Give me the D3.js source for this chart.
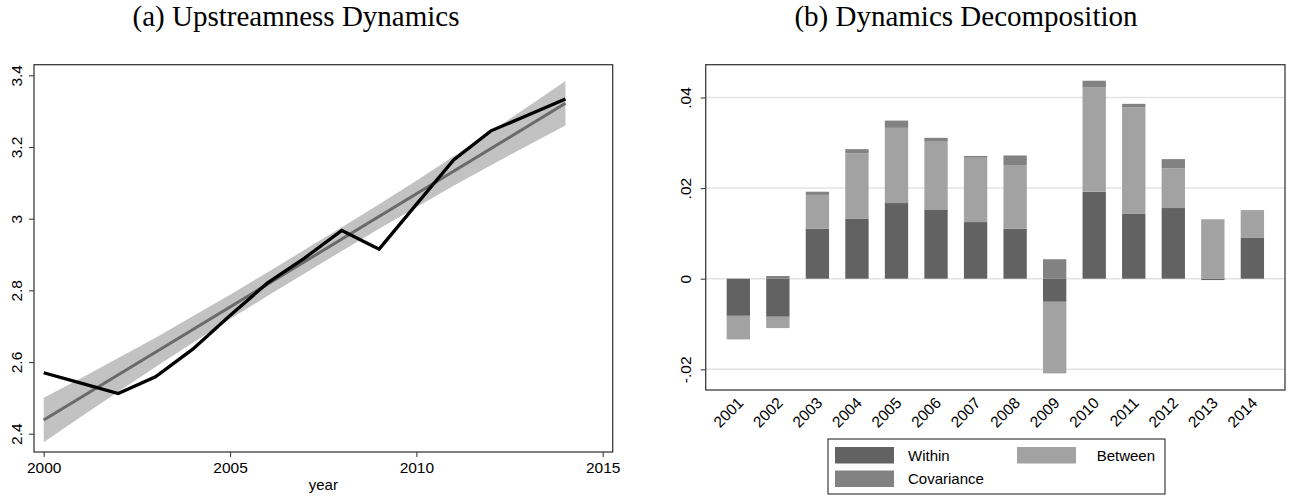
<!DOCTYPE html>
<html>
<head>
<meta charset="utf-8">
<script src="https://cdn.jsdelivr.net/npm/d3@7"></script>
<style>
  html, body { margin: 0; padding: 0; background: #fff; }
  svg { display: block; }
  .sans { font-family: "Liberation Sans", Arial, Helvetica, sans-serif; fill: #000; }
  .title { font-family: "Liberation Serif", "Times New Roman", serif; fill: #000; }
</style>
</head>
<body>
<svg id="chart" width="1290" height="499"></svg>
<script>
// ---------- Panel (a) data ----------
const years = [2000, 2001, 2002, 2003, 2004, 2005, 2006, 2007, 2008, 2009, 2010, 2011, 2012, 2013, 2014];
const upstreamness = [2.570, 2.541, 2.512, 2.559, 2.636, 2.730, 2.820, 2.890, 2.967, 2.915, 3.040, 3.164, 3.245, 3.289, 3.334];
const fitYears = [2000, 2014];
const fitValues = [2.438, 3.322];
const ciUpper = [2.500, 2.555, 2.611, 2.668, 2.728, 2.788, 2.850, 2.913, 2.976, 3.040, 3.106, 3.174, 3.243, 3.313, 3.384];
const ciLower = [2.376, 2.447, 2.517, 2.586, 2.654, 2.720, 2.784, 2.847, 2.910, 2.972, 3.032, 3.092, 3.149, 3.205, 3.260];
const xTicksA = [2000, 2005, 2010, 2015];
const yTicksA = [2.4, 2.6, 2.8, 3.0, 3.2, 3.4];
const yTickLabelsA = ["2.4", "2.6", "2.8", "3", "3.2", "3.4"];

// ---------- Panel (b) data ----------
const decompYears = ["2001", "2002", "2003", "2004", "2005", "2006", "2007", "2008", "2009", "2010", "2011", "2012", "2013", "2014"];
const within     = [-0.0082, -0.0084, 0.0110, 0.0132, 0.0167, 0.0153, 0.0125, 0.0110, -0.0051, 0.0192, 0.0143, 0.0156, -0.0003, 0.0091];
const between    = [-0.0052, -0.0025, 0.0075, 0.0145, 0.0166, 0.0151, 0.0142, 0.0141, -0.0158, 0.0230, 0.0235, 0.0088, 0.0130, 0.0058];
const covariance = [0.0000, 0.0006, 0.0007, 0.0009, 0.0016, 0.0007, 0.0004, 0.0021, 0.0043, 0.0015, 0.0008, 0.0020, 0.0001, 0.0002];
const seriesNames = ["Within", "Between", "Covariance"];
const seriesColors = ["#626262", "#a2a2a2", "#828282"];
const yTicksB = [-0.02, 0, 0.02, 0.04];
const yTickLabelsB = ["-.02", "0", ".02", ".04"];

const svg = d3.select("#chart");
const frameColor = "#3c3c3c";

// ================= Panel (a) =================
const A = { left: 34, right: 612.7, top: 64.7, bottom: 452 };
const xA = d3.scaleLinear().domain([2000, 2015]).range([43.7, 602.7]);
const yA = d3.scaleLinear().domain([2.4, 3.4]).range([433.7, 75.3]);

const gA = svg.append("g");
gA.append("text").attr("class", "title")
  .attr("x", 296).attr("y", 26).attr("text-anchor", "middle")
  .style("font-size", "29px")
  .text("(a) Upstreamness Dynamics");

// CI band
const bandData = years.map((y, i) => ({ x: y, lo: ciLower[i], hi: ciUpper[i] }));
gA.append("path").datum(bandData)
  .attr("fill", "#c2c2c2")
  .attr("d", d3.area().x(d => xA(d.x)).y0(d => yA(d.lo)).y1(d => yA(d.hi)));

// fitted line
gA.append("path").datum(fitYears.map((y, i) => ({ x: y, v: fitValues[i] })))
  .attr("fill", "none").attr("stroke", "#6a6a6a").attr("stroke-width", 3)
  .attr("d", d3.line().x(d => xA(d.x)).y(d => yA(d.v)));

// observed line
gA.append("path").datum(years.map((y, i) => ({ x: y, v: upstreamness[i] })))
  .attr("fill", "none").attr("stroke", "#000").attr("stroke-width", 3.3)
  .attr("stroke-linejoin", "miter")
  .attr("d", d3.line().x(d => xA(d.x)).y(d => yA(d.v)));

// frame
gA.append("rect").attr("x", A.left).attr("y", A.top)
  .attr("width", A.right - A.left).attr("height", A.bottom - A.top)
  .attr("fill", "none").attr("stroke", frameColor).attr("stroke-width", 1.3);

// x axis
const xAxisA = d3.axisBottom(xA).tickValues(xTicksA).tickFormat(d3.format("d")).tickSize(5).tickPadding(5);
const gxA = gA.append("g").attr("transform", `translate(0,${A.bottom})`).call(xAxisA);
gxA.select(".domain").remove();
gxA.selectAll("line").attr("stroke", frameColor).attr("stroke-width", 1.1);
gxA.selectAll("text").attr("class", "sans").style("font-size", "15.5px").attr("fill", "#000");

// y axis
const yAxisA = d3.axisLeft(yA).tickValues(yTicksA).tickFormat((d, i) => yTickLabelsA[i]).tickSize(5).tickPadding(0);
const gyA = gA.append("g").attr("transform", `translate(${A.left},0)`).call(yAxisA);
gyA.select(".domain").remove();
gyA.selectAll("line").attr("stroke", frameColor).attr("stroke-width", 1.1);
gyA.selectAll("text")
  .attr("class", "sans").style("font-size", "15.5px").attr("fill", "#000")
  .attr("x", null).attr("dy", null)
  .attr("text-anchor", "middle")
  .attr("transform", "translate(-12,0) rotate(-90)");

gA.append("text").attr("class", "sans")
  .attr("x", (A.left + A.right) / 2).attr("y", 490)
  .attr("text-anchor", "middle").style("font-size", "15px")
  .text("year");

// ================= Panel (b) =================
const B = { left: 705.7, right: 1285, top: 64.7, bottom: 390 };
const xB = d3.scaleBand().domain(decompYears).range([B.left, B.right]).paddingInner(0.41).paddingOuter(0.53);
const yB = d3.scaleLinear().domain([-0.02, 0.04]).range([369.3, 97.5]);

const gB = svg.append("g");
gB.append("text").attr("class", "title")
  .attr("x", 966).attr("y", 26).attr("text-anchor", "middle")
  .style("font-size", "29px")
  .text("(b) Dynamics Decomposition");

// gridlines
gB.append("g").selectAll("line").data(yTicksB).join("line")
  .attr("x1", B.left).attr("x2", B.right)
  .attr("y1", d => yB(d)).attr("y2", d => yB(d))
  .attr("stroke", "#e3e3e3").attr("stroke-width", 1.5);

// stacked bars (diverging)
const table = decompYears.map((y, i) => ({ year: y, Within: within[i], Between: between[i], Covariance: covariance[i] }));
const stack = d3.stack().keys(seriesNames).offset(d3.stackOffsetDiverging);
const stacked = stack(table);
const color = d3.scaleOrdinal().domain(seriesNames).range(seriesColors);

gB.append("g").selectAll("g").data(stacked).join("g")
  .attr("fill", d => color(d.key))
  .selectAll("rect").data(d => d).join("rect")
  .attr("x", d => xB(d.data.year))
  .attr("width", xB.bandwidth())
  .attr("y", d => yB(Math.max(d[0], d[1])))
  .attr("height", d => Math.abs(yB(d[0]) - yB(d[1])));

// frame
gB.append("rect").attr("x", B.left).attr("y", B.top)
  .attr("width", B.right - B.left).attr("height", B.bottom - B.top)
  .attr("fill", "none").attr("stroke", frameColor).attr("stroke-width", 1.3);

// y axis
const yAxisB = d3.axisLeft(yB).tickValues(yTicksB).tickFormat((d, i) => yTickLabelsB[i]).tickSize(5).tickPadding(0);
const gyB = gB.append("g").attr("transform", `translate(${B.left},0)`).call(yAxisB);
gyB.select(".domain").remove();
gyB.selectAll("line").attr("stroke", frameColor).attr("stroke-width", 1.1);
gyB.selectAll("text")
  .attr("class", "sans").style("font-size", "15.5px").attr("fill", "#000")
  .attr("x", null).attr("dy", null)
  .attr("text-anchor", "middle")
  .attr("transform", "translate(-15,0) rotate(-90)");

// x axis labels (rotated)
const xAxisB = d3.axisBottom(xB).tickSize(0).tickPadding(0);
const gxB = gB.append("g").attr("transform", `translate(0,${B.bottom})`).call(xAxisB);
gxB.select(".domain").remove();
gxB.selectAll("text")
  .attr("class", "sans").style("font-size", "15.5px").attr("fill", "#000")
  .attr("y", null).attr("dy", null)
  .attr("text-anchor", "end")
  .attr("transform", "translate(6,14) rotate(-45)");

// legend
const L = { x: 828, y: 439, w: 337, h: 55 };
const gL = gB.append("g");
gL.append("rect").attr("x", L.x).attr("y", L.y).attr("width", L.w).attr("height", L.h)
  .attr("fill", "#fff").attr("stroke", frameColor).attr("stroke-width", 1.2);
const legendPos = [
  { sx: 835, sy: 447, tx: 908, anchor: "start" },
  { sx: 1017, sy: 447, tx: 1155, anchor: "end" },
  { sx: 835, sy: 470.5, tx: 908, anchor: "start" }
];
seriesNames.forEach((name, i) => {
  const p = legendPos[i];
  gL.append("rect").attr("x", p.sx).attr("y", p.sy).attr("width", 59).attr("height", 16.5)
    .attr("fill", color(name));
  gL.append("text").attr("class", "sans")
    .attr("x", p.tx).attr("y", p.sy + 13.5)
    .attr("text-anchor", p.anchor).style("font-size", "15px")
    .text(name);
});
</script>
</body>
</html>
